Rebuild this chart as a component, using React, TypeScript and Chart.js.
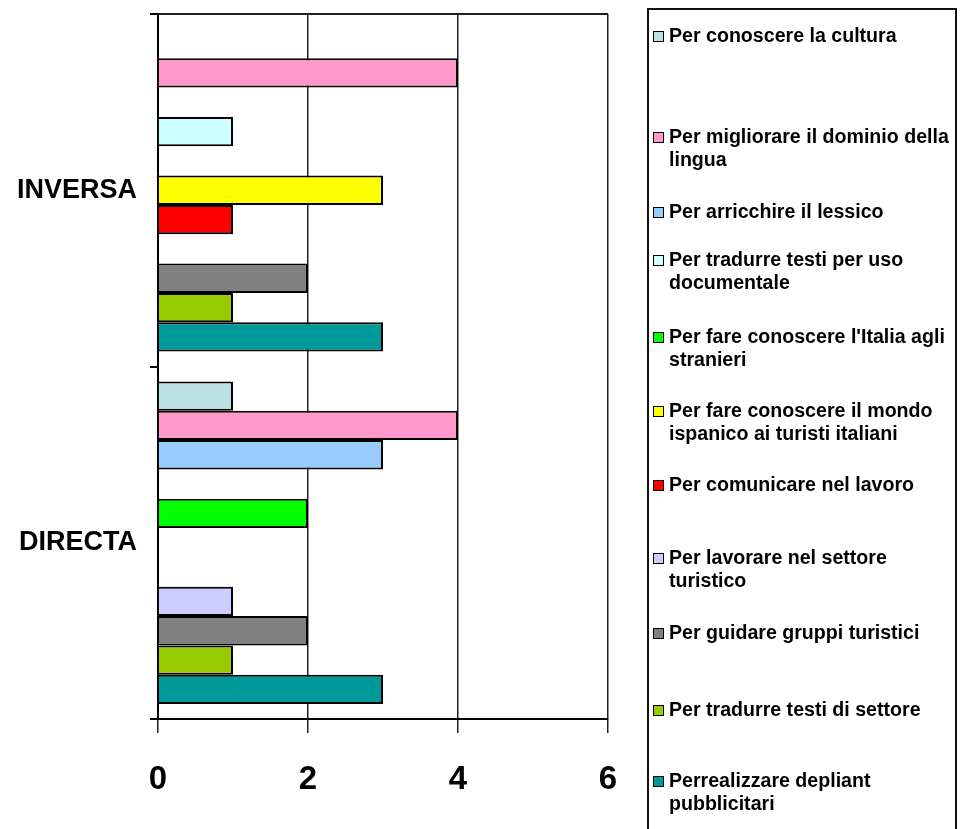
import React, { useEffect, useRef } from "react";
import { Chart, registerables } from "chart.js";

Chart.register(...registerables);

// ---- Data ----
const categories = ["INVERSA", "DIRECTA"];

const seriesNames = [
  "Per conoscere la cultura",
  "Per migliorare il dominio della\nlingua",
  "Per arricchire il lessico",
  "Per tradurre testi per uso\ndocumentale",
  "Per fare conoscere l'Italia agli\nstranieri",
  "Per fare conoscere il mondo\nispanico ai turisti italiani",
  "Per comunicare nel lavoro",
  "Per lavorare nel settore\nturistico",
  "Per guidare gruppi turistici",
  "Per tradurre testi di settore",
  "Perrealizzare depliant\npubblicitari",
];

const perConoscereLaCultura = [0, 1];
const perMigliorareIlDominio = [4, 4];
const perArricchireIlLessico = [0, 3];
const perTradurreDocumentale = [1, 0];
const perFareConoscereItalia = [0, 2];
const perFareConoscereIspanico = [3, 0];
const perComunicareNelLavoro = [1, 0];
const perLavorareTuristico = [0, 1];
const perGuidareGruppi = [2, 2];
const perTradurreSettore = [1, 1];
const perRealizzareDepliant = [3, 3];

const seriesValues = [
  perConoscereLaCultura,
  perMigliorareIlDominio,
  perArricchireIlLessico,
  perTradurreDocumentale,
  perFareConoscereItalia,
  perFareConoscereIspanico,
  perComunicareNelLavoro,
  perLavorareTuristico,
  perGuidareGruppi,
  perTradurreSettore,
  perRealizzareDepliant,
];

const seriesColors = [
  "#BCE0E3",
  "#FF99CC",
  "#99CCFF",
  "#CCFFFF",
  "#00FF00",
  "#FFFF00",
  "#FF0000",
  "#CCCCFF",
  "#808080",
  "#99CC00",
  "#009999",
];

const xMin = 0;
const xMax = 6;
const xStep = 2;

// ---- Layout (legend first-line cap centers, px) ----
const legendCenters = [36, 137, 212, 260, 337, 411, 485, 558, 633, 710, 781];

const FONT = "'Liberation Sans', Arial, Helvetica, sans-serif";

const framePlugin = {
  id: "frameTop",
  beforeDatasetsDraw(chart: any) {
    const { ctx, chartArea } = chart;
    ctx.save();
    ctx.strokeStyle = "#222";
    ctx.lineWidth = 2;
    ctx.beginPath();
    ctx.moveTo(chartArea.left, chartArea.top);
    ctx.lineTo(chartArea.right, chartArea.top);
    ctx.stroke();
    ctx.restore();
  },
};

export default function App() {
  const canvasRef = useRef<HTMLCanvasElement | null>(null);

  useEffect(() => {
    document.body.style.margin = "0";
    document.body.style.overflow = "hidden";
    const canvas = canvasRef.current;
    if (!canvas) return;
    const chart = new Chart(canvas, {
      type: "bar",
      data: {
        labels: categories,
        datasets: seriesNames.map((name, i) => ({
          label: name.replace("\n", " "),
          data: seriesValues[i],
          backgroundColor: seriesColors[i],
          borderColor: "#000",
          borderWidth: 2,
          inflateAmount: 0,
          barPercentage: 1,
          categoryPercentage: 0.915,
        })),
      },
      options: {
        indexAxis: "y",
        animation: false,
        responsive: false,
        devicePixelRatio: 1,
        layout: { padding: { top: 14, right: 355, left: 0, bottom: 0 } },
        plugins: {
          legend: { display: false },
          tooltip: { enabled: false },
        },
        scales: {
          x: {
            min: xMin,
            max: xMax,
            ticks: {
              stepSize: xStep,
              color: "#000",
              padding: 27,
              font: { family: FONT, size: 33, weight: "bold" },
            },
            grid: {
              color: "#222",
              lineWidth: 1.5,
              tickLength: 14,
              drawTicks: true,
            },
            border: { display: true, color: "#000", width: 2 },
            afterFit(scale: any) {
              scale.height = 110;
              scale.paddingLeft = 0;
              scale.paddingRight = 0;
            },
          },
          y: {
            ticks: {
              color: "#000",
              padding: 13,
              font: { family: FONT, size: 27, weight: "bold" },
            },
            grid: {
              display: true,
              drawOnChartArea: false,
              drawTicks: true,
              tickLength: 8,
              color: "#000",
              lineWidth: 2,
              offset: true,
            },
            border: { display: true, color: "#000", width: 2 },
            afterFit(scale: any) {
              scale.width = 158;
              scale.paddingTop = 0;
              scale.paddingBottom = 0;
            },
          },
        },
      },
      plugins: [framePlugin],
    });
    return () => chart.destroy();
  }, []);

  return (
    <div style={{ position: "relative", width: 963, height: 829, overflow: "hidden", background: "#fff" }}>
      <canvas ref={canvasRef} width={963} height={829} style={{ position: "absolute", left: 0, top: 0 }} />
      <div
        style={{
          position: "absolute",
          left: 647,
          top: 8,
          width: 310,
          height: 830,
          boxSizing: "border-box",
          borderTop: "2px solid #111",
          borderLeft: "2px solid #111",
          borderRight: "2px solid #111",
        }}
      />
      {seriesNames.map((name, i) => (
        <div key={i}>
          <div
            style={{
              position: "absolute",
              left: 653,
              top: legendCenters[i] - 5,
              width: 11,
              height: 11,
              boxSizing: "border-box",
              border: "1px solid #000",
              background: seriesColors[i],
            }}
          />
          <div
            style={{
              position: "absolute",
              left: 669,
              top: legendCenters[i] - 12,
              fontFamily: FONT,
              fontWeight: "bold",
              fontSize: 19.6,
              lineHeight: "23px",
              color: "#000",
              whiteSpace: "pre",
            }}
          >
            {name}
          </div>
        </div>
      ))}
    </div>
  );
}
